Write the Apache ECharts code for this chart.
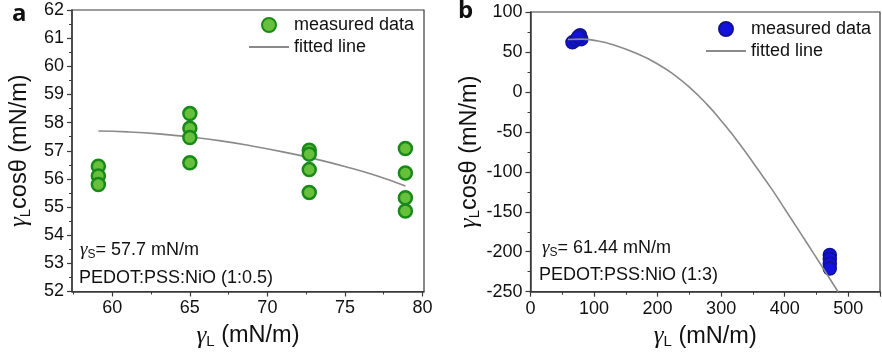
<!DOCTYPE html>
<html>
<head>
<meta charset="utf-8">
<script src="https://cdn.jsdelivr.net/npm/echarts@6/dist/echarts.min.js"></script>
<style>html,body{margin:0;padding:0;background:#fff}#c{width:882px;height:360px}</style>
</head>
<body>
<div id="c"></div>
<script>
// ---- Panel a data ----
const aGammaL = [59.1, 59.1, 59.1, 65, 65, 65, 65, 72.7, 72.7, 72.7, 72.7, 78.9, 78.9, 78.9, 78.9];
const aMeasured = [56.45, 56.1, 55.8, 58.32, 57.8, 57.47, 56.57, 57.02, 56.88, 56.33, 55.52, 57.08, 56.21, 55.33, 54.86];
const aFitX = [59.1, 61, 63, 65, 67, 69, 71, 73, 75, 77, 78.9];
const aFitY = [57.70, 57.67, 57.60, 57.49, 57.35, 57.17, 56.96, 56.72, 56.44, 56.12, 55.75];
const aXTicks = [60, 65, 70, 75, 80];
const aXMinor = [57.5, 62.5, 67.5, 72.5, 77.5];
// ---- Panel b data ----
const bGammaL = [66, 72, 78, 80, 75, 471, 471, 471, 471];
const bMeasured = [62, 65, 71, 66, 69, -204, -209, -215, -221];
const bFitX = [59, 80, 100, 130, 170, 200, 225, 250, 277, 300, 330, 356, 380, 403, 435, 460, 484];
const bFitY = [65.5, 66, 64.5, 59, 47, 35, 22, 6, -15, -36, -66, -95, -122, -150, -189, -220, -250];
const bXTicks = [0, 100, 200, 300, 400, 500];

const FONT = 'Liberation Sans, Arial, sans-serif';
const SERIF = 'Liberation Serif, DejaVu Serif, serif';
const AX = '#3a3a3a';

const nameRich = {
  g: {fontSize: 25, fontFamily: SERIF, fontStyle: 'italic', color: '#111'},
  sub: {fontSize: 15, fontFamily: FONT, color: '#111', padding: [12, 0, 0, 0]},
  t: {fontSize: 23.5, fontFamily: FONT, color: '#111'}
};
const annRich = {
  g: {fontSize: 19, fontFamily: SERIF, fontStyle: 'italic', fill: '#111'},
  s: {fontSize: 12, fontFamily: FONT, fill: '#111', padding: [10, 0, 0, 0]},
  t: {fontSize: 18, fontFamily: FONT, fill: '#111'}
};

function pairs(xs, ys) { return xs.map((x, i) => [x, ys[i]]); }

const axisCommon = {
  axisLine: {show: true, onZero: false, lineStyle: {color: AX, width: 1.5}},
  axisTick: {show: true, inside: false, length: 5, lineStyle: {color: AX, width: 1.2}},
  minorTick: {show: true, splitNumber: 2, length: 3, lineStyle: {color: AX, width: 1}},
  splitLine: {show: false},
  axisLabel: {fontSize: 18, fontFamily: FONT, color: '#111', margin: 8}
};

const hiddenSym = {color: 'rgba(0,0,0,0)', borderColor: 'rgba(0,0,0,0)', borderWidth: 0};

const option = {
  animation: false,
  backgroundColor: '#fff',
  grid: [
    {left: 72, top: 10, width: 352, height: 281.5, show: true, borderColor: AX, borderWidth: 1.2},
    {left: 530.5, top: 12, width: 349.5, height: 279.7, show: true, borderColor: AX, borderWidth: 1.2}
  ],
  xAxis: [
    Object.assign({}, axisCommon, {
      gridIndex: 0, type: 'value', min: 57.4, max: 80.1,
      minorTick: {show: false},
      axisTick: {show: true, length: 5, customValues: aXTicks, lineStyle: {color: AX, width: 1.2}},
      axisLabel: {fontSize: 18, fontFamily: FONT, color: '#111', margin: 8, customValues: aXTicks},
      name: '{g|γ}{sub|L}{t| (mN/m)}', nameLocation: 'middle', nameGap: 31,
      nameTextStyle: {rich: nameRich}
    }),
    {
      gridIndex: 0, type: 'value', min: 57.4, max: 80.1, position: 'bottom',
      axisLine: {show: false}, splitLine: {show: false},
      axisLabel: {show: false},
      axisTick: {show: true, length: 3, customValues: aXMinor, lineStyle: {color: AX, width: 1}}
    },
    Object.assign({}, axisCommon, {
      gridIndex: 1, type: 'value', min: 0, max: 550, interval: 100,
      axisLabel: {fontSize: 18, fontFamily: FONT, color: '#111', margin: 8, customValues: bXTicks},
      name: '{g|γ}{sub|L}{t| (mN/m)}', nameLocation: 'middle', nameGap: 31,
      nameTextStyle: {rich: nameRich}
    })
  ],
  yAxis: [
    Object.assign({}, axisCommon, {
      gridIndex: 0, type: 'value', min: 52, max: 62, interval: 1,
      name: '{g|γ}{sub|L}{t|cosθ (mN/m)}', nameLocation: 'middle', nameGap: 39,
      nameTextStyle: {rich: nameRich}
    }),
    Object.assign({}, axisCommon, {
      gridIndex: 1, type: 'value', min: -250, max: 100, interval: 50,
      name: '{g|γ}{sub|L}{t|cosθ (mN/m)}', nameLocation: 'middle', nameGap: 47,
      nameTextStyle: {rich: nameRich}
    })
  ],
  legend: [
    {
      orient: 'vertical', left: 243, top: 11, itemWidth: 40, itemHeight: 14, itemGap: 4,
      textStyle: {fontSize: 18, fontFamily: FONT, color: '#111'},
      data: [{name: 'measured data', icon: 'circle'}, {name: 'fitted line', itemStyle: hiddenSym}],
      formatter: n => n.trim()
    },
    {
      orient: 'vertical', left: 700, top: 15, itemWidth: 40, itemHeight: 14, itemGap: 4,
      textStyle: {fontSize: 18, fontFamily: FONT, color: '#111'},
      data: [{name: 'measured data ', icon: 'circle'}, {name: 'fitted line ', itemStyle: hiddenSym}],
      formatter: n => n.trim()
    }
  ],
  series: [
    {
      name: 'fitted line', type: 'line', xAxisIndex: 0, yAxisIndex: 0,
      data: pairs(aFitX, aFitY), smooth: true, showSymbol: false, symbol: 'none',
      lineStyle: {color: '#8a8a8a', width: 1.6}, itemStyle: {color: '#8a8a8a'}, z: 2
    },
    {
      name: 'measured data', type: 'scatter', xAxisIndex: 0, yAxisIndex: 0,
      data: pairs(aGammaL, aMeasured), symbolSize: 13,
      itemStyle: {color: '#66c03c', borderColor: '#178a17', borderWidth: 2.5, opacity: 1}, z: 3
    },
    {
      name: 'fitted line ', type: 'line', xAxisIndex: 2, yAxisIndex: 1,
      data: pairs(bFitX, bFitY), smooth: true, showSymbol: false, symbol: 'none',
      lineStyle: {color: '#8a8a8a', width: 1.6}, itemStyle: {color: '#8a8a8a'}, z: 4
    },
    {
      name: 'measured data ', type: 'scatter', xAxisIndex: 2, yAxisIndex: 1,
      data: pairs(bGammaL, bMeasured), symbolSize: 13,
      itemStyle: {color: '#1212dc', borderColor: '#121290', borderWidth: 1.5, opacity: 1}, z: 3
    }
  ],
  graphic: [
    {type: 'text', left: 12, top: 2, style: {text: 'a', fontSize: 24, fontWeight: 'bold', fontFamily: 'Open Sans, Liberation Sans, sans-serif', fill: '#111'}},
    {type: 'text', left: 458, top: -1, style: {text: 'b', fontSize: 24, fontWeight: 'bold', fontFamily: 'Open Sans, Liberation Sans, sans-serif', fill: '#111'}},
    {type: 'text', x: 80, y: 250, style: {text: '{g|γ}{s|S}{t|= 57.7 mN/m}', rich: annRich, verticalAlign: 'middle'}},
    {type: 'text', x: 79, y: 278, style: {text: 'PEDOT:PSS:NiO (1:0.5)', fontSize: 18, fontFamily: FONT, fill: '#111', verticalAlign: 'middle'}},
    {type: 'text', x: 542, y: 248, style: {text: '{g|γ}{s|S}{t|= 61.44 mN/m}', rich: annRich, verticalAlign: 'middle'}},
    {type: 'text', x: 539, y: 275, style: {text: 'PEDOT:PSS:NiO (1:3)', fontSize: 18, fontFamily: FONT, fill: '#111', verticalAlign: 'middle'}}
  ]
};

const chart = echarts.init(document.getElementById('c'), null, {renderer: 'canvas'});
chart.setOption(option);
</script>
</body>
</html>
